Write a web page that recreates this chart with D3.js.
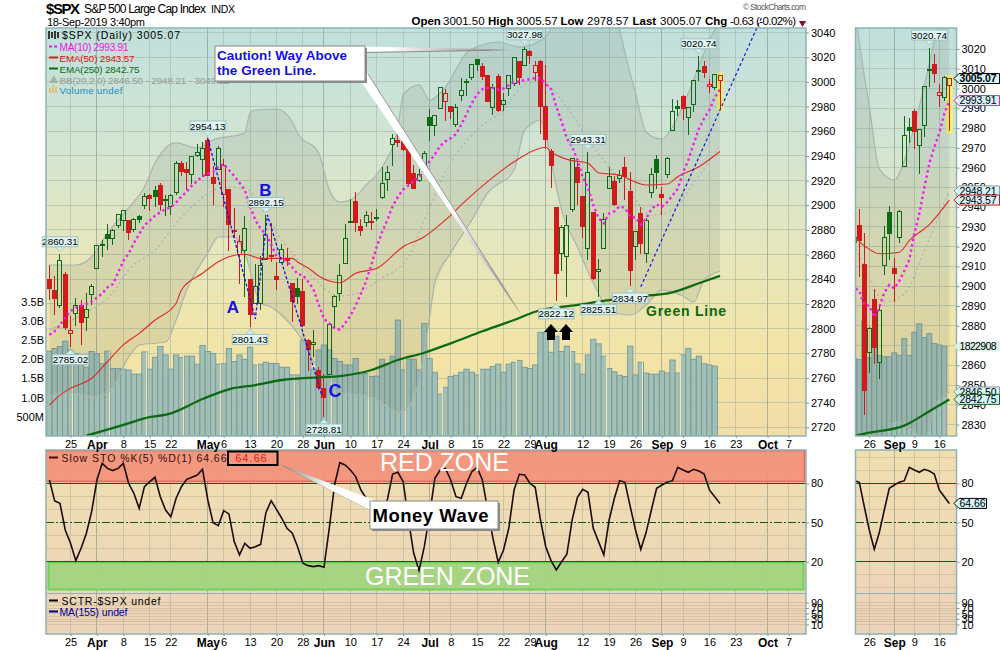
<!DOCTYPE html>
<html>
<head>
<meta charset="utf-8">
<script src="https://cdn.jsdelivr.net/npm/d3@7"></script>
<style>
  html, body { margin: 0; padding: 0; background: #fff; }
  svg { display: block; }
  text { font-family: "Liberation Sans", Arial, sans-serif; }
  .axis path.domain { display: none; }
</style>
</head>
<body>
<div id="chart"></div>
<script>
// daily bars, 19-Mar-2019 (day 0) to 18-Sep-2019 (day 127)
var open = [2840,2831,2819,2844,2796,2812,2819,2809,2828,2848.5,
  2868,2876,2873,2884,2888,2888,2880,2891,2900,2908,
  2912,2916,2904.8,2899,2910,2934,2929,2925,2940.6,2937.1,
  2952.3,2922.2,2929.2,2908.9,2913,2879.6,2859.8,2863.1,2840.2,2820.1,
  2820.4,2855.8,2858.6,2841.9,2854,2856.1,2836.7,2832.4,2830,2790.3,
  2786.9,2766.2,2751.5,2762.6,2818.1,2828.5,2852.9,2885.8,2903.3,2882.7,
  2886.2,2886.8,2889.8,2906.7,2920.6,2949.6,2952.7,2951.4,2945.8,2926.1,
  2919.7,2932.9,2971.4,2964.7,2978.1,2984.3,2979.8,2965.5,2989.3,2999.6,
  3003.4,3017.8,3012.1,3005.1,2978.9,3004.3,2981.9,2994.7,2998.8,3016.3,
  3013.3,3024.5,3007.7,3016.2,2980.3,2943.5,2898.1,2861.2,2858.7,2896.2,
  2930.5,2907.1,2864.7,2894.2,2846.2,2864.7,2913.5,2919,2922,2930.9,
  2911.1,2866.7,2893.1,2861.3,2910.4,2937.1,2909,2924.7,2960.6,2980.3,
  2988.4,2971,2981.4,3009.1,3012.2,2996.4,2995.7,3001.5];
var high = [2852,2843,2860.31,2846,2810,2825,2823,2829,2836,2868,
  2872,2885,2880.6,2893,2895.9,2888,2889.7,2892,2910,2909,
  2915.6,2918,2908,2909,2936,2936,2935,2940,2949.5,2951,
  2954.13,2931.7,2947.9,2937.3,2913,2898,2876,2891.3,2840.2,2852.5,
  2858.7,2892.15,2885.5,2853.9,2868.9,2865.5,2836.7,2841.4,2840.5,2792,
  2799,2769,2763.1,2804.5,2827.3,2852.1,2885,2904.8,2910.6,2888.6,
  2895.2,2894.5,2897.3,2930.8,2931.7,2958.1,2964.2,2954.9,2946.5,2932.6,
  2929.3,2944,2977.9,2973.2,2995.8,2994,2980.8,2981.9,3003,3002.3,
  3013.9,3017.8,3015,3005.3,2998.3,3006,2990.7,3005.9,3019.6,3016.3,
  3027.98,3025.6,3017.2,3017.4,3013.6,2945.5,2898.1,2884.4,2892.2,2938.7,
  2935.8,2907.6,2943.31,2894.2,2856.7,2893.6,2931,2923.6,2928.7,2939.1,
  2927,2879.3,2898.8,2890,2930.5,2940.4,2914.4,2938.8,2985.9,2985,
  2989.4,2979.4,3000.9,3020.74,3017.3,3002.2,3006.2,3005.57];
var low = [2823,2811,2817,2799,2785.02,2802,2787,2798,2819,2848,
  2858,2864,2868,2881.5,2879.5,2872,2878,2886,2897,2895.5,
  2899,2895,2891,2892,2908,2924,2912,2917,2939.4,2923,
  2923.4,2900.5,2929.2,2898.2,2862.6,2873.3,2836.4,2825.4,2801.43,2820.1,
  2815.1,2855.8,2854.2,2831.3,2854,2851.1,2805.5,2820.2,2801.6,2766.1,
  2776.7,2750.5,2728.81,2762.6,2800.9,2822.5,2852.9,2885.5,2878.5,2874.7,
  2882,2879.6,2887.3,2905.4,2911.4,2931.5,2946.9,2944.1,2916,2913,
  2918.6,2929.1,2952.2,2955.9,2978,2968,2970.1,2963.4,2984.6,2988.8,
  3001.9,3008.8,3001.2,2984.3,2973.1,2975.9,2976.7,2988.6,2996.8,2997.2,
  3012.6,3014.3,3000.9,2958.1,2945.2,2914.1,2822.12,2847,2825.7,2894.5,
  2900.2,2873.1,2856,2839.6,2825.51,2864.7,2913.5,2899.6,2917.9,2904.5,
  2834.97,2856,2860.6,2853.1,2905.7,2913.3,2891.9,2921.9,2960.6,2972.5,
  2969.4,2957,2975.3,3000.9,3002.9,2990.6,2993.7,2978.57];
var close = [2832.57,2824.23,2854.88,2800.71,2798.36,2818.46,2805.37,2815.44,2834.4,2867.19,
  2867.24,2873.4,2879.39,2892.74,2895.77,2878.2,2888.21,2888.32,2907.41,2905.58,
  2907.06,2900.45,2905.03,2907.97,2933.68,2927.25,2926.17,2939.88,2943.03,2945.83,
  2923.73,2917.52,2945.64,2932.47,2884.05,2879.42,2870.72,2881.4,2811.87,2834.41,
  2850.96,2876.32,2859.53,2840.23,2864.36,2856.27,2822.24,2826.06,2802.39,2783.02,
  2788.86,2752.06,2744.45,2803.27,2826.15,2843.49,2873.34,2886.73,2885.72,2879.84,
  2891.64,2886.98,2889.67,2917.75,2926.46,2954.18,2950.46,2945.35,2917.38,2913.78,
  2924.92,2941.76,2964.33,2973.01,2995.82,2990.41,2975.95,2979.63,2993.07,2999.91,
  3013.77,3014.3,3004.04,2984.42,2995.11,2976.61,2985.03,3005.47,3019.56,3003.67,
  3025.86,3020.97,3013.18,2980.38,2953.56,2932.05,2844.74,2881.77,2883.98,2938.09,
  2918.65,2882.7,2926.32,2840.6,2847.6,2888.68,2923.65,2900.51,2924.43,2922.95,
  2847.11,2878.38,2869.16,2887.94,2924.58,2926.46,2906.27,2937.78,2976,2978.71,
  2978.43,2979.39,3000.93,3009.57,3007.39,2997.96,3005.7,3005.07];
var ma10 = [2795,2798,2803,2809,2814,2817,2818.5,2820,2822,2825.2,
  2828.6,2833.5,2836,2845.2,2854.9,2860.9,2869.2,2876.5,2883.8,2887.6,
  2891.6,2894.3,2896.9,2898.4,2902.2,2907.1,2910.9,2916.1,2919.6,2923.7,
  2925.3,2927,2931.1,2933.5,2928.6,2923.8,2918.2,2912.4,2899.3,2888.1,
  2880.9,2876.7,2868.1,2858.9,2856.9,2854.6,2849.8,2844.2,2843.3,2838.1,
  2831.9,2819.5,2808,2804.3,2800.5,2799.2,2804.3,2810.4,2818.7,2828.4,
  2838.7,2852.2,2866.7,2878.1,2888.2,2899.2,2907,2912.8,2916,2919.4,
  2922.7,2928.2,2935.7,2941.2,2948.1,2951.8,2954.3,2957.7,2965.3,2973.9,
  2982.8,2990.1,2994,2995.2,2995.1,2993.7,2994.6,2997.2,2999.9,3000.3,
  3001.5,3002.1,3003.1,3002.7,2998.5,2994.1,2980,2967.7,2954.1,2947.5,
  2936.8,2923,2914.3,2900.3,2889.7,2885.4,2893.3,2895.2,2899.2,2897.7,
  2890.5,2890.1,2884.4,2889.1,2896.8,2900.6,2898.9,2902.6,2907.8,2913.4,
  2926.5,2936.6,2949.8,2962,2970.3,2977.4,2987.3,2993.91];
// billions of shares, today's bar is not drawn yet
var volume = [2.21,2.28,2.33,2.47,2.24,2.15,2.02,1.79,2.2,2.14,
  1.88,2.21,1.76,1.76,1.74,1.72,1.61,1.61,2.19,1.74,
  2.05,2.33,2.11,1.74,2.11,2.04,2.08,2.08,1.87,2.36,
  2.2,2.15,1.87,1.88,2.28,1.94,2.11,2,2.31,1.85,
  1.87,1.92,1.89,1.89,1.79,1.79,1.59,1.59,2.5,2.46,
  1.74,2.24,2.37,2.24,2.02,1.94,1.85,1.85,2.02,1.61,
  1.63,1.55,1.56,2,1.89,2.08,3.02,1.72,2,2,
  1.72,2.93,2.02,1.66,1.09,1.27,1.55,1.58,1.66,1.74,
  1.66,1.59,1.74,1.74,1.81,1.87,1.66,1.87,1.92,1.97,
  1.79,1.76,1.85,2.7,2.7,2.18,2.6,2.2,2.34,2.2,
  1.88,1.61,2.11,2.52,2.4,2.08,1.76,1.67,1.58,1.55,
  2.34,1.59,1.92,1.64,1.61,1.61,1.69,1.64,1.98,1.64,
  2.11,2.28,2,2.08,1.88,1.85,1.82];
var stoch = [82.6,66.5,64.7,44.3,34.1,20.8,30.3,41.8,58.4,82.6,
  95.4,91.5,89.8,91.5,95.4,80.1,72.4,60.9,77.5,81.3,
  84.7,69.8,59.6,54.5,68.6,77.5,83.1,84.7,86.4,90.8,
  67.3,49.9,47.6,59.1,56.6,35.4,25.2,34.1,30.3,31.5,
  33.3,57.6,66.8,60.1,53.3,45.6,41.8,31.5,18.8,17,
  16.2,17,15.7,45.6,78.8,95.9,94.1,90.3,85.2,74.9,
  68.6,59.6,55.8,62.2,67.3,87.2,88.5,81.3,52,26.4,
  13.2,31.5,55.8,83.9,90.3,91.5,82.6,69.8,68.6,80.1,
  89,92.3,82.6,59.6,38,19.5,29,45.6,75,87,
  86.4,80.1,77,52,31.5,20.8,13.7,20,25.7,52,
  69.3,75.5,73.2,45.6,35.4,25.2,52,68.6,82.1,80.8,
  62.2,44.3,29.5,42.3,59.6,76.2,78.8,80.8,82.1,92.3,
  90.3,88.5,90.8,89.5,87.2,75,69.8,64.66];

// slower lines, read at the turning points
var ema50Days = [0,2,4,8,11,14,17,20,24,25,29,32,34,37,40,46,47,49,51,53,55,58,62,67,71,75,79,83,88,92,94,95,98,102,104,108,110,113,117,119,123,127];
var ema50 = [2738.1,2746.2,2751.7,2759.8,2773.2,2786.8,2796.2,2807,2820.6,2831.3,2844.9,2854.3,2858.3,2860.3,2857,2857,2854,2849.2,2842.7,2838.6,2837.2,2844.9,2848.9,2866.4,2874.5,2888.1,2904.3,2919.1,2935.3,2944.8,2947,2943.4,2937.2,2934,2926.4,2924.5,2920.5,2916.4,2917.2,2923.1,2931.2,2943.57];
var ema250Days = [7,14,18,23,29,34,39,44,51,55,61,66,71,76,82,88,92,100,106,111,118,123,127];
var ema250 = [2713.3,2722,2727.4,2731.4,2743,2750.9,2754.3,2758.4,2760.6,2761.6,2766.5,2774.6,2780.5,2788.1,2797.9,2807,2813.7,2819.2,2823.2,2825.9,2829.5,2836.8,2842.75];
var bbUpperDays = [0,5,8,11,15,18,20,24,28,31,37,38,39,43,46,47,51,53,55,57,60,63,66,67,70,72,75,79,82,85,89,94,95,97,100,104,108,109,111,113,116,118,121,125,127];
var bbUpper = [2851.6,2851.6,2858.1,2877.5,2897.8,2914.8,2934.2,2950.5,2946.4,2952.9,2958.6,2974.8,2977.2,2978,2967.5,2958.6,2942.4,2912.4,2902.6,2904.3,2916.4,2931,2963.4,2989.4,2997.5,2985.3,2995.8,3023.4,3029.9,3032.3,3028.2,3036.4,3043.6,3060,3065,3065,3042,3023.4,2991,2959.4,2953.7,2963.4,2991,3033.9,3049.9];
var bbLowerDays = [0,3,9,12,15,17,22,24,26,30,32,35,37,40,42,47,51,55,61,66,68,70,72,73,76,80,83,88,90,93,96,97,100,103,107,110,113,116,120,122,124,127];
var bbLower = [2744.9,2748.7,2744.9,2752.7,2777,2786.8,2789.2,2807,2831.3,2861.3,2874.3,2874.3,2861.3,2820.8,2817.6,2796.5,2766.5,2748.7,2744.6,2732.5,2736.5,2758.4,2809.4,2837,2861.3,2888.1,2910,2928.6,2961,2969.1,2914.8,2896.2,2866.2,2837,2812.7,2811.1,2819.2,2831.3,2826.5,2821.6,2839.4,2846.5];
var bbMidDays = [0,6,12,15,20,25,29,33,37,41,44,46,50,55,57,63,68,71,76,81,86,90,93,95,98,103,107,111,114,118,122,127];
var bbMid = [2799,2811.1,2829,2847.5,2863.7,2890.5,2905.9,2914.8,2914,2892.1,2871.8,2861.3,2841.1,2826.5,2827.3,2841.1,2858.1,2888.1,2934.2,2961,2977.2,2997.5,2999.9,2995,2979.6,2947.2,2926.1,2904.3,2892.1,2896.2,2918,2948.21];

// light seams between some of the volume bars
var volumeSeams = [4.4,11.4,18.4,25.4,32.4,39.4,46.4,53.4,60.4,67.4,74.4,81.4,88.5,98.6,105.5,112.4,119.6];

// tick labels
var dateDays = [4,9,14,19,23,30,33,38,43,48,52,57,62,67,72,76,81,86,91,94,101,106,111,116,120,125,130,136,140];
var dateLabels = ["25","Apr","8","15","22","May","6","13","20","28","Jun","10","17","24","Jul","8","15","22","29","Aug","12","19","26","Sep","9","16","23","Oct","7"];
var priceTicks = [3040,3020,3000,2980,2960,2940,2920,2900,2880,2860,2840,2820,2800,2780,2760,2740,2720];
var zoomPriceTicks = [3020,3010,3000,2990,2980,2970,2960,2950,2940,2930,2920,2910,2900,2890,2880,2870,2860,2850,2840,2830];
var volumeTicks = [0.5,1,1.5,2,2.5,3,3.5];
var stochTicks = [80,50,20];
var sctrTicks = [90,70,50,30,10];

// annotated highs and lows
var peakDays = [2,4,30,38,41,52,90,96,102,104,110,123];
var peakValues = [2860.31,2785.02,2954.13,2801.43,2892.15,2728.81,3027.98,2822.12,2943.31,2825.51,2834.97,3020.74];
var peakBelow = [false,true,false,true,false,true,false,true,false,true,true,false];
var zoomPeakDays = [123];

// hand drawn trend lines
var abcDays = [30,39,41.3,51.6];
var abcValues = [2954.13,2808,2892.15,2746];
var trendDays = [112,135];
var trendValues = [2834,3053.4];

var W = 1000, H = 650;
var GREEN = "#0d6b16", RED = "#d21a1a", BORDER = "#8fb2b4", BLUE = "#1212e6";

var svg = d3.select("#chart").append("svg").attr("width", W).attr("height", H);
var defs = svg.append("defs");

function gradient(id, stops) {
  var g = defs.append("linearGradient").attr("id", id).attr("x1", 0).attr("x2", 0).attr("y1", 0).attr("y2", 1);
  stops.forEach(function(s) { g.append("stop").attr("offset", s[0]).attr("stop-color", s[1]); });
}
gradient("priceBg", [[0, "#c0e0dd"], [0.3, "#d4e5d2"], [0.55, "#e6e6bb"], [0.8, "#f3e4a6"], [1, "#f2dca8"]]);
gradient("lowerBg", [[0, "#f0dfb0"], [1, "#ecd3bb"]]);

// tail colour runs from white at the box to grey at the tip
function tailGradient(id, from, to, greyAt) {
  var g = defs.append("linearGradient").attr("id", id).attr("gradientUnits", "userSpaceOnUse")
    .attr("x1", from[0]).attr("y1", from[1]).attr("x2", to[0]).attr("y2", to[1]);
  g.append("stop").attr("offset", 0).attr("stop-color", "#fff");
  g.append("stop").attr("offset", greyAt).attr("stop-color", "#fff");
  g.append("stop").attr("offset", 1).attr("stop-color", "#808080");
}
tailGradient("tailTop", [366, 49], [513, 49], 0.15);
tailGradient("tailLow", [364, 77], [521, 315], 0.55);
tailGradient("tailWave", [371, 504], [279, 464], 0.45);

function label(g, text, x, y, o) {
  o = o || {};
  var t = g.append("text").attr("x", x).attr("y", y).text(text)
    .attr("font-size", o.size || 11)
    .attr("font-weight", o.weight || "normal")
    .attr("fill", o.fill || "#000")
    .attr("text-anchor", o.anchor || "start");
  if (o.len) t.attr("textLength", o.len).attr("lengthAdjust", "spacing");
  return t;
}

function styleAxis(g, size) {
  g.attr("class", "axis");
  g.selectAll("text").attr("font-size", size || 11).attr("fill", "#000").style("font-family", '"Liberation Sans", Arial, sans-serif');
  g.selectAll("line").attr("stroke", "#7d9a9c");
}

// one price pane and the stochastic pane under it, used for both the full chart and the zoom
function drawPanes(p) {
  var x = d3.scaleLinear().domain([0, 127]).range([p.x0, p.x127]);
  var y = d3.scaleLinear().domain(p.priceDomain).range(p.priceRange);
  var vol = d3.scaleLinear().domain([0, 1]).range([p.bottom, p.bottom - p.pxPerB]);
  var sto = d3.scaleLinear().domain([20, 80]).range([561.7, 483.4]);
  var sctr = d3.scaleLinear().domain([10, 90]).range([624.5, 602.5]);
  var w = p.right - p.left;

  var clipId = "clip" + Math.round(p.left);
  defs.append("clipPath").attr("id", clipId).append("rect")
    .attr("x", p.left).attr("y", p.top).attr("width", w).attr("height", p.bottom - p.top);
  var clipLow = clipId + "l";
  defs.append("clipPath").attr("id", clipLow).append("rect")
    .attr("x", p.left).attr("y", 450).attr("width", w).attr("height", 184);

  // backgrounds
  svg.append("rect").attr("x", p.left).attr("y", p.top).attr("width", w).attr("height", p.bottom - p.top).attr("fill", "url(#priceBg)");
  svg.append("rect").attr("x", p.left).attr("y", 450).attr("width", w).attr("height", 184).attr("fill", "url(#lowerBg)");

  // grid
  var grid = svg.append("g").attr("shape-rendering", "crispEdges");
  dateDays.forEach(function(d, i) {
    var px = x(d);
    if (px < p.left || px > p.right) return;
    var month = /[A-Z]/.test(dateLabels[i]);
    [[p.top, p.bottom], [450, 634]].forEach(function(r) {
      grid.append("line").attr("x1", px).attr("x2", px).attr("y1", r[0]).attr("y2", r[1])
        .attr("stroke", month ? "#7f9488" : "#a3b3a0").attr("stroke-opacity", month ? 0.6 : 0.55);
    });
  });
  p.ticks.forEach(function(v) {
    grid.append("line").attr("x1", p.left).attr("x2", p.right).attr("y1", y(v)).attr("y2", y(v))
      .attr("stroke", "#a3b3a0").attr("stroke-opacity", 0.55);
  });
  d3.range(0, 101, 10).forEach(function(v) {
    if (v === 80 || v === 50 || v === 20) return;
    grid.append("line").attr("x1", p.left).attr("x2", p.right).attr("y1", sto(v)).attr("y2", sto(v))
      .attr("stroke", "#c9b48e").attr("stroke-opacity", 0.6);
  });
  d3.range(10, 100, 10).forEach(function(v) {
    grid.append("line").attr("x1", p.left).attr("x2", p.right).attr("y1", sctr(v)).attr("y2", sctr(v))
      .attr("stroke", "#c9b48e").attr("stroke-opacity", 0.6);
  });

  var main = svg.append("g").attr("clip-path", "url(#" + clipId + ")");

  // yellow marker behind today's bar
  main.append("rect").attr("x", x(127) - p.markW / 2).attr("width", p.markW)
    .attr("y", y(high[127]) - 2.5).attr("height", y(low[127]) - y(high[127]) + 5).attr("fill", "#f8f26a");

  // volume
  var bw = p.barStep;
  main.selectAll("rect.vol").data(volume).enter().append("rect").attr("class", "vol")
    .attr("x", function(d, i) { return x(i) - bw / 2; })
    .attr("width", bw)
    .attr("y", function(d) { return vol(d); })
    .attr("height", function(d) { return p.bottom - vol(d); })
    .attr("fill", "#9cbdb4").attr("fill-opacity", 0.9)
    .attr("stroke", "#6f9aa3").attr("stroke-width", 0.9);
  if (p.full) {
    volumeSeams.forEach(function(s) {
      var tallest = Math.max(volume[Math.floor(s)], volume[Math.ceil(s)]);
      main.append("line").attr("x1", x(s)).attr("x2", x(s)).attr("y1", vol(tallest)).attr("y2", p.bottom)
        .attr("stroke", "#efe4b8").attr("shape-rendering", "crispEdges");
    });
  }

  // bollinger band
  var pts = function(days, vals) { return days.map(function(d, i) { return [d, vals[i]]; }); };
  var line = d3.line().x(function(d) { return x(d[0]); }).y(function(d) { return y(d[1]); }).curve(d3.curveMonotoneX);
  var upperPath = line(pts(bbUpperDays, bbUpper));
  var lowerPts = pts(bbLowerDays, bbLower);
  var lowerPath = line(lowerPts);
  var bandPath = upperPath + "L" + x(127) + "," + y(bbLower[bbLower.length - 1]) +
    d3.line().x(function(d) { return x(d[0]); }).y(function(d) { return y(d[1]); })(lowerPts.slice().reverse()).replace(/^M/, "L") + "Z";
  main.append("path").attr("d", bandPath).attr("fill", "#5a6a62").attr("fill-opacity", 0.13);
  main.append("path").attr("d", upperPath).attr("fill", "none").attr("stroke", "#a8b4ae").attr("stroke-width", 1.2);
  main.append("path").attr("d", lowerPath).attr("fill", "none").attr("stroke", "#a8b4ae").attr("stroke-width", 1.2);
  main.append("path").attr("d", line(pts(bbMidDays, bbMid))).attr("fill", "none")
    .attr("stroke", "#aab4ac").attr("stroke-width", 1.2).attr("stroke-dasharray", "2 3");

  // candles
  var colour = function(i) { return i > 0 && close[i] >= close[i - 1] ? GREEN : RED; };
  var days = d3.range(close.length);
  var candles = main.selectAll("g.candle").data(days).enter().append("g").attr("class", "candle")
    .attr("shape-rendering", "crispEdges");
  candles.append("line").attr("x1", x).attr("x2", x)
    .attr("y1", function(i) { return y(high[i]); })
    .attr("y2", function(i) { return y(Math.max(open[i], close[i])); })
    .attr("stroke", colour);
  candles.append("line").attr("x1", x).attr("x2", x)
    .attr("y1", function(i) { return y(Math.min(open[i], close[i])); })
    .attr("y2", function(i) { return y(low[i]); })
    .attr("stroke", colour);
  candles.append("rect")
    .attr("x", function(i) { return x(i) - 2; }).attr("width", 4)
    .attr("y", function(i) { return y(Math.max(open[i], close[i])); })
    .attr("height", function(i) { return Math.max(1, Math.abs(y(open[i]) - y(close[i]))); })
    .attr("stroke", colour)
    .attr("fill", function(i) { return close[i] > open[i] ? "none" : colour(i); });

  // moving averages
  main.append("path").attr("d", line(pts(ema50Days, ema50))).attr("fill", "none").attr("stroke", "#df2a2a").attr("stroke-width", 1.1);
  main.append("path").attr("d", line(pts(ema250Days, ema250))).attr("fill", "none").attr("stroke", "#0c6a12").attr("stroke-width", 2.3);
  main.append("path").attr("d", d3.line().x(function(d, i) { return x(i); }).y(function(d) { return y(d); })(ma10))
    .attr("fill", "none").attr("stroke", "#f519f0").attr("stroke-width", 2.4).attr("stroke-dasharray", "2.4 3");

  if (p.full) {
    var trend = d3.line().x(function(d) { return x(d[0]); }).y(function(d) { return y(d[1]); });
    svg.append("path").attr("d", trend(pts(abcDays, abcValues))).attr("fill", "none")
      .attr("stroke", BLUE).attr("stroke-width", 1.3).attr("stroke-dasharray", "3 2");
    svg.append("path").attr("d", trend(pts(trendDays, trendValues))).attr("fill", "none")
      .attr("stroke", BLUE).attr("stroke-width", 1.2).attr("stroke-dasharray", "3 2.5");
  }

  // high / low tags
  var tagG = svg.append("g");
  p.peakDays.forEach(function(d) {
    var k = peakDays.indexOf(d);
    var px = x(d), py = y(peakValues[k]), below = peakBelow[k];
    var dir = below ? 1 : -1;
    var boxNear = py + dir * 7.5, boxFar = py + dir * 17.5, tip = py + dir * 2.5;
    var bx = px - 17.8;
    tagG.append("path")
      .attr("d", "M" + (px - 5) + "," + boxNear + "L" + px + "," + tip + "L" + (px + 5) + "," + boxNear + "Z")
      .attr("fill", "#cfeeec").attr("stroke", "#9fc0c0").attr("stroke-width", 0.8);
    tagG.append("rect").attr("x", bx).attr("y", Math.min(boxNear, boxFar)).attr("width", 35.6).attr("height", 10)
      .attr("fill", "#dff5f3").attr("stroke", "#9fc0c0");
    label(tagG, peakValues[k].toFixed(2), px, Math.min(boxNear, boxFar) + 8.6, { size: 9.8, anchor: "middle" });
  });

  // stochastic pane
  var low2 = svg.append("g").attr("clip-path", "url(#" + clipLow + ")");
  if (p.full) {
    low2.append("rect").attr("x", 45.5).attr("y", 450.5).attr("width", 759).attr("height", 31)
      .attr("fill", "#f3907a").attr("fill-opacity", 0.92).attr("stroke", "#f26060").attr("stroke-width", 1.6);
    low2.append("rect").attr("x", 48.5).attr("y", 562.5).attr("width", 755).attr("height", 27)
      .attr("fill", "#a3d480").attr("fill-opacity", 0.95).attr("stroke", "#6fd254").attr("stroke-width", 2);
  }
  stochTicks.forEach(function(v) {
    var l = low2.append("line").attr("x1", p.left).attr("x2", p.right).attr("y1", sto(v)).attr("y2", sto(v))
      .attr("stroke", "#0d5a12").attr("stroke-width", 1).attr("shape-rendering", "crispEdges");
    if (v === 50) l.attr("stroke-dasharray", "8 2 2 2");
  });
  low2.append("line").attr("x1", p.left).attr("x2", p.right).attr("y1", 593.5).attr("y2", 593.5).attr("stroke", BORDER);
  low2.append("path").attr("d", d3.line().x(function(d, i) { return x(i); }).y(function(d) { return sto(d); })(stoch))
    .attr("fill", "none").attr("stroke", "#1a0c0c").attr("stroke-width", 1.6);

  // borders
  svg.append("rect").attr("x", p.left).attr("y", p.top).attr("width", w).attr("height", p.bottom - p.top)
    .attr("fill", "none").attr("stroke", BORDER).attr("stroke-width", 1.5);
  svg.append("rect").attr("x", p.left).attr("y", 450).attr("width", w).attr("height", 184)
    .attr("fill", "none").attr("stroke", BORDER).attr("stroke-width", 1.5);

  // axes
  var visibleDates = d3.range(dateDays.length).filter(function(i) {
    return x(dateDays[i]) >= p.left + 4 && x(dateDays[i]) <= p.right;
  });
  [p.bottom, 634].forEach(function(ty) {
    var ax = svg.append("g").attr("transform", "translate(0," + ty + ")")
      .call(d3.axisBottom(x).tickValues(visibleDates.map(function(i) { return dateDays[i]; }))
        .tickFormat(function(d) { return dateLabels[dateDays.indexOf(d)]; })
        .tickSize(2).tickPadding(2.5));
    styleAxis(ax);
    ax.selectAll("text").attr("font-weight", function(d) {
      return /[A-Z]/.test(dateLabels[dateDays.indexOf(d)]) ? "bold" : "normal";
    }).attr("font-size", function(d) {
      return /[A-Z]/.test(dateLabels[dateDays.indexOf(d)]) ? 12 : 11;
    });
  });
  var pa = svg.append("g").attr("transform", "translate(" + p.right + ",0)")
    .call(d3.axisRight(y).tickValues(p.ticks).tickFormat(d3.format("d")).tickSize(3).tickPadding(2));
  styleAxis(pa);
  var sa = svg.append("g").attr("transform", "translate(" + p.right + ",0)")
    .call(d3.axisRight(sto).tickValues(stochTicks).tickFormat(d3.format("d")).tickSize(3).tickPadding(2));
  styleAxis(sa);
  var sc = svg.append("g").attr("transform", "translate(" + p.right + ",0)")
    .call(d3.axisRight(sctr).tickValues(sctrTicks).tickFormat(d3.format("d")).tickSize(3).tickPadding(2));
  styleAxis(sc);

  return { x: x, y: y, vol: vol, sto: sto };
}

var full = drawPanes({
  full: true, left: 46, right: 806, top: 28, bottom: 436,
  x0: 49.4, x127: 720,
  priceDomain: [3040, 2720], priceRange: [32.5, 427.4],
  pxPerB: 38.4, barStep: 5.28, markW: 6.6,
  ticks: priceTicks, peakDays: peakDays
});

var zoomPane = drawPanes({
  full: false, left: 855.5, right: 956.5, top: 28, bottom: 436,
  x0: 314.3, x127: 949.3,
  priceDomain: [3020, 2830], priceRange: [49, 424.6],
  pxPerB: 49.2, barStep: 5, markW: 6.6,
  ticks: zoomPriceTicks, peakDays: zoomPeakDays
});

// volume axis
var vAxis = svg.append("g").attr("transform", "translate(46,0)")
  .call(d3.axisLeft(full.vol).tickValues(volumeTicks)
    .tickFormat(function(d) { return d < 1 ? (d * 1000) + "M" : d.toFixed(1) + "B"; })
    .tickSize(0).tickPadding(2));
styleAxis(vAxis, 11);

// header
label(svg, "$SPX", 46, 14, { size: 15, weight: "bold", len: 34 });
label(svg, "S&P 500 Large Cap Index", 84, 13, { size: 12, len: 122 });
label(svg, "INDX", 211, 13, { size: 10.5, len: 24 });
label(svg, "18-Sep-2019 3:40pm", 47, 26, { size: 11, len: 98 });
label(svg, "\u00a9", 743, 10, { size: 8.5, fill: "#666" });
label(svg, "StockCharts.com", 750, 10, { size: 8.5, fill: "#555", len: 56 });
[["Open", 411.5, true], ["3001.50", 443, false], ["High", 488, true], ["3005.57", 516, false],
 ["Low", 560.5, true], ["2978.57", 587, false], ["Last", 632.5, true], ["3005.07", 660, false],
 ["Chg", 705, true]].forEach(function(h) {
  label(svg, h[0], h[1], 25, { size: 11.5, weight: h[2] ? "bold" : "normal" });
});
label(svg, "-0.63 (-0.02%)", 730, 25, { size: 11.5, len: 66 });
svg.append("path").attr("d", d3.symbol().type(d3.symbolTriangle).size(22)()).attr("fill", "#8a0a3a")
  .attr("transform", "translate(802.5,23) rotate(180)");

// price pane legend
var legend = svg.append("g");
legend.append("path").attr("d", "M49,31v8M52,32v6M55,31v8M58,32v6").attr("stroke", "#111").attr("stroke-width", 1.6);
label(legend, "$SPX (Daily) 3005.07", 62, 39, { size: 10.5, len: 118 });
legend.append("line").attr("x1", 49).attr("x2", 58).attr("y1", 46.5).attr("y2", 46.5).attr("stroke", "#f519f0").attr("stroke-width", 2).attr("stroke-dasharray", "3 2");
label(legend, "MA(10) 2993.91", 59.5, 50.5, { size: 10, fill: "#f010e8", len: 69 });
legend.append("line").attr("x1", 49).attr("x2", 58).attr("y1", 57.5).attr("y2", 57.5).attr("stroke", "#e01818").attr("stroke-width", 2);
label(legend, "EMA(50) 2943.57", 59.5, 61.5, { size: 9.8, fill: "#e01010", len: 75 });
legend.append("line").attr("x1", 49).attr("x2", 58).attr("y1", 68.5).attr("y2", 68.5).attr("stroke", "#0c6a12").attr("stroke-width", 2);
label(legend, "EMA(250) 2842.75", 59.5, 72.5, { size: 9.8, fill: "#0c6a12", len: 80 });
legend.append("path").attr("d", "M49,83L54,75L58,83Z").attr("fill", "#a5b3ae");
label(legend, "BB(20,2.0) 2846.50 - 2948.21 - 3049.92", 59.5, 83.5, { size: 9.8, fill: "#909c98", len: 170 });
legend.append("path").attr("d", "M50,93v-5M53,93v-8M56,93v-6").attr("stroke", "#e2b95a").attr("stroke-width", 1.6);
label(legend, "Volume undef", 59.5, 93.5, { size: 9.8, fill: "#1f8ac0", len: 63 });

// letters and notes on the price pane
label(svg, "A", 233, 313, { size: 17, weight: "bold", fill: BLUE, anchor: "middle" });
label(svg, "B", 265.5, 196, { size: 17, weight: "bold", fill: BLUE, anchor: "middle" });
label(svg, "C", 335, 397, { size: 18, weight: "bold", fill: BLUE, anchor: "middle" });
label(svg, "Green Line", 646, 316, { size: 14, weight: "bold", fill: "#0a6a0a", len: 80 });
function upArrow(cx) {
  var s = [[-7, 332], [0, 324], [7, 332], [4, 332], [4, 340], [-4, 340], [-4, 332]];
  svg.append("path").attr("d", d3.line()(s.map(function(q) { return [q[0] + cx, q[1]]; })) + "Z").attr("fill", "#000");
}
upArrow(551);
upArrow(566);

// callouts, a white box with a pointed tail and a grey shadow
function callout(boxX, boxY, boxW, boxH, tails) {
  var g = svg.append("g");
  tails.forEach(function(t) {
    g.append("path").attr("d", d3.line()(t.pts.map(function(q) { return [q[0] + 1.5, q[1] + 1]; })) + "Z").attr("fill", "#8c8c8c");
    g.append("path").attr("d", d3.line()(t.pts) + "Z").attr("fill", "url(#" + t.fill + ")");
  });
  g.append("rect").attr("x", boxX + 2).attr("y", boxY + 2).attr("width", boxW).attr("height", boxH).attr("fill", "#8a8a8a");
  g.append("rect").attr("x", boxX).attr("y", boxY).attr("width", boxW).attr("height", boxH)
    .attr("fill", "#fff").attr("stroke", "#8a8a8a");
  return g;
}
var c1 = callout(215, 46, 150, 35, [
  { pts: [[362, 46.5], [513, 49.5], [362, 52]], fill: "tailTop" },
  { pts: [[360, 80], [521, 315], [367, 73]], fill: "tailLow" }
]);
label(c1, "Caution! Way Above", 217, 60, { size: 13.5, weight: "bold", fill: BLUE, len: 130 });
label(c1, "the Green Line.", 217, 75, { size: 13.5, weight: "bold", fill: BLUE, len: 99 });

// lower pane text
var lowerText = svg.append("g");
label(lowerText, "RED ZONE", 380, 471, { size: 25, fill: "#fff", len: 129 });
label(lowerText, "GREEN ZONE", 365, 585, { size: 25, fill: "#fff", len: 165 });
lowerText.append("line").attr("x1", 49).attr("x2", 58).attr("y1", 457.5).attr("y2", 457.5).attr("stroke", "#4a0808").attr("stroke-width", 2);
label(lowerText, "Slow STO %K(5) %D(1) 64.66", 61.5, 461.5, { size: 10.5, fill: "#3a0c0c", len: 165 });
lowerText.append("rect").attr("x", 228).attr("y", 451.5).attr("width", 49.5).attr("height", 13.5).attr("fill", "none").attr("stroke", "#000").attr("stroke-width", 2);
label(lowerText, "64.66", 235.5, 461.5, { size: 10.5, fill: "#f01010", len: 31 });
lowerText.append("line").attr("x1", 49).attr("x2", 58).attr("y1", 600.5).attr("y2", 600.5).attr("stroke", "#000").attr("stroke-width", 2);
label(lowerText, "SCTR-$SPX undef", 61.5, 604.5, { size: 10.5, len: 99 });
lowerText.append("line").attr("x1", 49).attr("x2", 58).attr("y1", 611.5).attr("y2", 611.5).attr("stroke", "#000090").attr("stroke-width", 2);
label(lowerText, "MA(155) undef", 59.5, 615.5, { size: 10.5, fill: "#000090", len: 68 });

var c2 = callout(370, 501, 128, 28, [
  { pts: [[279, 464], [374, 500], [370, 510]], fill: "tailWave" }
]);
label(c2, "Money Wave", 372.5, 522, { size: 18.5, weight: "bold", len: 116 });

// value flags beside the zoom pane
function flag(y, text, w, stroke, o) {
  o = o || {};
  var g = svg.append("g");
  var x0 = 954, x1 = 959, y0 = y - 5, y1 = y + 5;
  var d = "M" + x0 + "," + y + "L" + x1 + "," + y0 + "H" + (x0 + w - 0.5) + "V" + y1 + "H" + x1 + "Z";
  g.append("path").attr("d", d).attr("fill", o.fill || "#d4f4fa")
    .attr("stroke", stroke || "none").attr("stroke-width", 1);
  label(g, text, x1 + 0.5, y + 3.8, { size: o.size || 10.5, weight: o.bold ? "bold" : "normal", len: o.len || 37 });
}
var zy = zoomPane.y;
flag(zy(2948.21), "2948.21", 46, "#8b9a9c");
flag(zy(2943.57), "2943.57", 46, "#d01818");
flag(zy(2993.91), "2993.91", 46, "#f010e8");
flag(zy(3005.07), "3005.07", 46, "#000", { bold: true });
flag(zoomPane.vol(1.82), "1822908", 46, null, { fill: "#dcf1e6" });
flag(zy(2846.5), "2846.50", 46, "#8b9a9c");
flag(zy(2842.75), "2842.75", 46, "#0c6a12");
flag(zoomPane.sto(64.66), "64.66", 33, "#000", { len: 26 });
</script>
</body>
</html>
